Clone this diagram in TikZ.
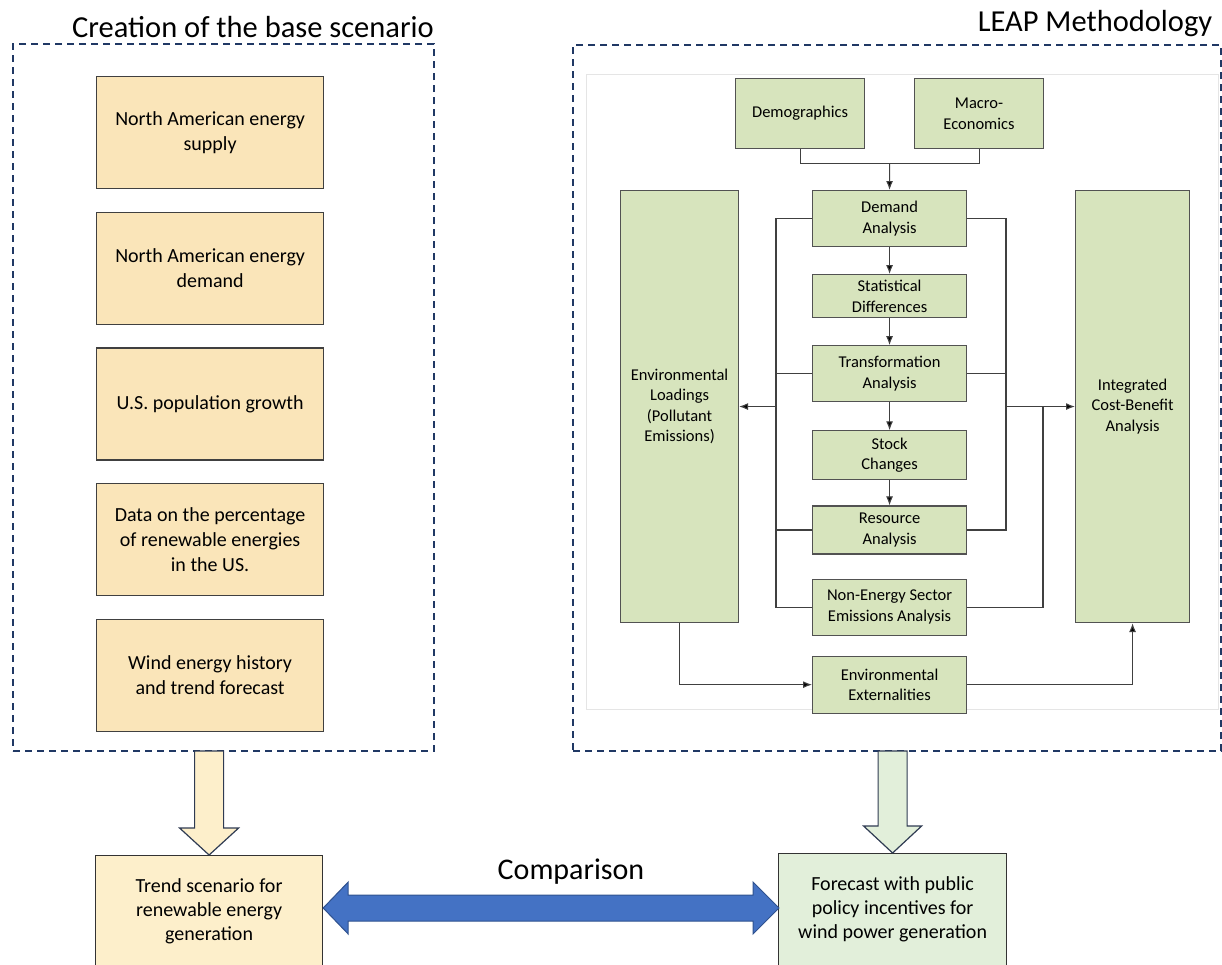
\documentclass[tikz,border=0pt]{standalone}
\usepackage{fontspec}
\setmainfont{Carlito}
\usepackage{tikz}
\usetikzlibrary{arrows.meta,positioning,calc}
\usepackage{xcolor}
\definecolor{navydash}{HTML}{203864}
\definecolor{sand}{HTML}{FAE5B9}
\definecolor{sandlight}{HTML}{FDEFCB}
\definecolor{leaf}{HTML}{D7E4BD}
\definecolor{leaflight}{HTML}{E2EFDA}
\definecolor{cmpblue}{HTML}{4472C4}
\definecolor{cmpedge}{HTML}{2F528F}
\definecolor{blockedge}{HTML}{2F3B52}
\tikzset{
frame/.style={draw=navydash, line width=2.4pt, dash pattern=on 7pt off 5pt, anchor=north west, inner sep=0pt},
ybox/.style={draw=black!75, line width=1.2pt, fill=sand, minimum width=227pt, minimum height=112pt, inner sep=0pt, align=center, font=\fontsize{20}{25}\selectfont},
gbox/.style={draw=black!68, line width=1.1pt, fill=leaf, minimum width=154pt, inner sep=0pt, align=center, font=\fontsize{16.5}{20.5}\selectfont},
wire/.style={draw=black!75, line width=1.1pt},
arr/.style={wire, -{Latex[length=9pt, width=7pt, fill=black]}},
blockarr/.style={draw=blockedge, line width=1.2pt, line join=miter},
title/.style={anchor=base, font=\fontsize{30.5}{36}\selectfont}
}

\begin{document}
\begin{tikzpicture}[x=1pt, y=-1pt, node distance=22.5pt]
\useasboundingbox (0,0) rectangle (1222,964);
% base scenario column
\node[title] (basetitle) at (253,37) {Creation of the base scenario};
\node[frame, minimum width=421pt, minimum height=707pt] (baseframe) at (12,43) {};
\node[ybox, anchor=north west] (supply) at (96,76) {North American energy\\supply};
\node[ybox, below=of supply] (demandNA) {North American energy\\demand};
\node[ybox, below=of demandNA] (popul) {U.S. population growth};
\node[ybox, below=of popul] (renew) {Data on the percentage\\of renewable energies\\in the US.};
\node[ybox, below=of renew] (wind) {Wind energy history\\and trend forecast};

% LEAP column
\node[title] (leaptitle) at (1095,31) {LEAP Methodology};
\node[frame, minimum width=648pt, minimum height=706pt] (leapframe) at (572,44) {};
\node[draw=black!10, line width=0.8pt, fill=white, minimum width=632pt, minimum height=635pt, anchor=north west] (leapimg) at (586,74) {};
\node[gbox, minimum width=129pt, minimum height=70pt, anchor=north west] (demog) at (735,78) {Demographics};
\node[gbox, minimum width=129pt, minimum height=70pt, anchor=north west] (macro) at (914,78) {Macro-\\Economics};
\node[gbox, minimum height=56pt, anchor=north west] (demand) at (812,190) {Demand\\Analysis};
\node[gbox, minimum height=43pt, below=27pt of demand] (stat) {Statistical\\Differences};
\node[gbox, minimum height=56pt, below=27pt of stat] (trans) {Transformation\\Analysis};
\node[gbox, minimum height=49pt, below=28pt of trans] (stock) {Stock\\Changes};
\node[gbox, minimum height=48pt, below=25pt of stock] (resource) {Resource\\Analysis};
\node[gbox, minimum height=56pt, below=24pt of resource] (nonenergy) {Non-Energy Sector\\Emissions Analysis};
\node[gbox, minimum height=57pt, below=20pt of nonenergy] (envext) {Environmental\\Externalities};
\node[gbox, minimum width=118pt, minimum height=432pt, anchor=north west] (envload) at (620,190) {Environmental\\Loadings\\(Pollutant\\Emissions)};
\node[gbox, minimum width=114pt, minimum height=432pt, anchor=north west] (costben) at (1075,190) {Integrated\\Cost-Benefit\\Analysis};

\coordinate (join) at ($(demog.south)!0.5!(macro.south)+(0,14)$);
\draw[wire] (demog.south) |- (join) -| (macro.south);
\draw[arr] (join) -- (demand.north);
\foreach \a/\b in {demand/stat, stat/trans, trans/stock, stock/resource}
\draw[arr] (\a.south) -- (\b.north);

\coordinate (lbus) at (776,0);
\coordinate (rbus) at (1006,0);
\coordinate (rbus2) at (1043,0);
\draw[wire] (demand.west) -- (demand.west -| lbus) |- (nonenergy.west);
\foreach \n in {trans, resource}
\draw[wire] (\n.west) -- (\n.west -| lbus);
\draw[arr] (envload.east -| lbus) -- (envload.east);
\draw[wire] (demand.east) -- (demand.east -| rbus) |- (resource.east);
\draw[wire] (trans.east) -- (trans.east -| rbus);
\draw[wire] (nonenergy.east) -| (costben.west -| rbus2);
\draw[arr] (costben.west -| rbus) -- (costben.west);
\draw[arr] (envload.south) |- (envext.west);
\draw[arr] (envext.east) -| (costben.south);

% results
\node[draw=black!80, line width=1.2pt, fill=sandlight, minimum width=227pt, minimum height=112pt, anchor=north west, align=center, font=\fontsize{20}{24}\selectfont] (trend) at (95,855) {Trend scenario for\\renewable energy\\generation};
\node[draw=black!80, line width=1.2pt, fill=leaflight, minimum width=228pt, minimum height=112pt, anchor=north west, align=center, font=\fontsize{20}{24}\selectfont] (forecast) at (778,853) {Forecast with public\\policy incentives for\\wind power generation};

\draw[blockarr, fill=sandlight] (trend.north) -- ++(-29.5,-27) -- ++(15,0) -- ++(0,-77) -- ++(29,0) -- ++(0,77) -- ++(15,0) -- cycle;
\draw[blockarr, fill=leaflight] (forecast.north) -- ++(-29,-27) -- ++(14.5,0) -- ++(0,-75) -- ++(29,0) -- ++(0,75) -- ++(14.5,0) -- cycle;

\path (trend.north east) ++(0,53) coordinate (cmpL);
\path (forecast.north west) ++(1,55) coordinate (cmpR);
\draw[draw=cmpedge, line width=1pt, fill=cmpblue] (cmpL) -- ++(25,-26) -- ++(0,13) -- ($(cmpR)+(-26,-13)$) -- ++(0,-13) -- (cmpR) -- ++(-26,26) -- ++(0,-13) -- ($(cmpL)+(25,13)$) -- ++(0,13) -- cycle;
\node[anchor=base, font=\fontsize{30}{36}\selectfont] (cmplabel) at (571,879) {Comparison};
\end{tikzpicture}
\end{document}
